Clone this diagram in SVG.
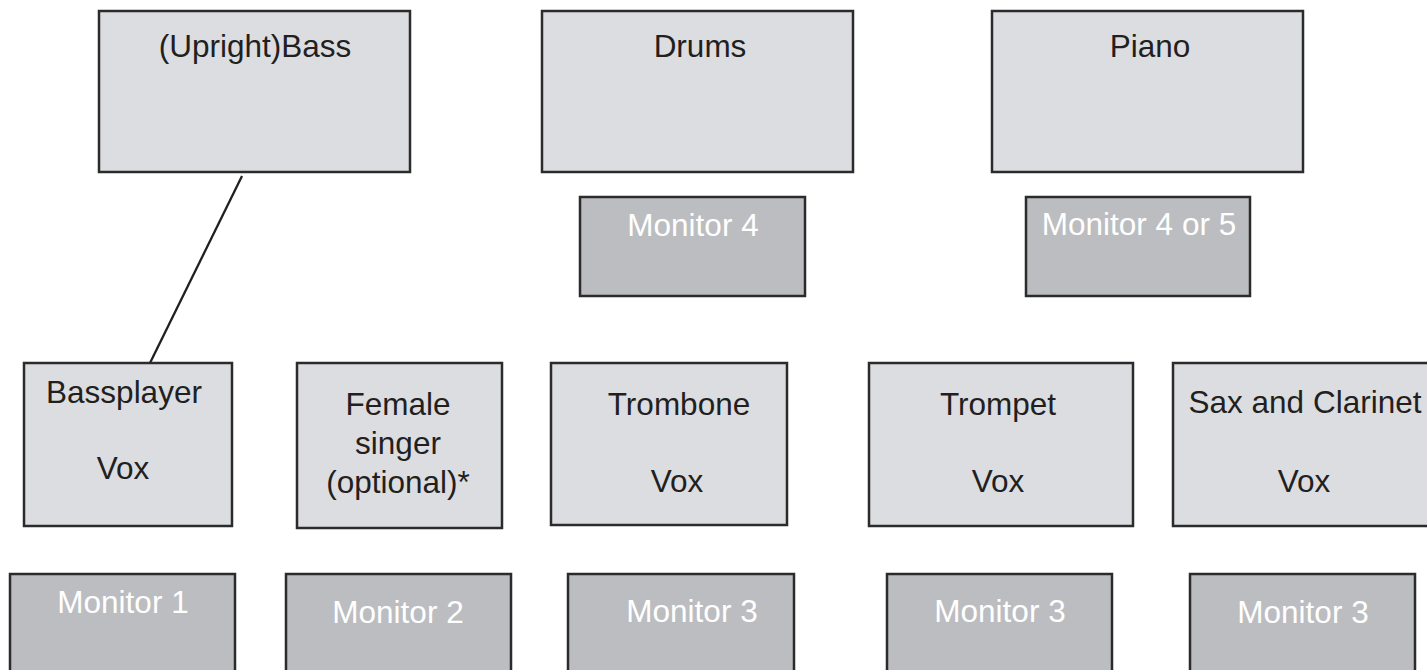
<svg xmlns="http://www.w3.org/2000/svg" width="1427" height="670" viewBox="0 0 1427 670">
<style>
.box{fill:#dcdde0;stroke:#2b2b2b;stroke-width:2.5}
.mon{fill:#bcbdc0;stroke:#2b2b2b;stroke-width:2.5}
text{font-family:"Liberation Sans",Arial,sans-serif;font-size:31.5px;text-anchor:middle}
.t{fill:#231f20}
.w{fill:#ffffff}
.conn{stroke:#231f20;stroke-width:2.3;fill:none}
</style>
<rect width="1427" height="670" fill="#ffffff"/>
<g id="connectors">
<line class="conn" x1="242" y1="176" x2="150" y2="363"/>
</g>
<g id="bass"><rect class="box" x="99" y="11" width="311" height="161"/><text class="t" x="255" y="57">(Upright)Bass</text></g>
<g id="drums"><rect class="box" x="542" y="11" width="311" height="161"/><text class="t" x="700" y="57">Drums</text></g>
<g id="piano"><rect class="box" x="992" y="11" width="311" height="161"/><text class="t" x="1150" y="57">Piano</text></g>
<g id="monitor4"><rect class="mon" x="580" y="197" width="225" height="99"/><text class="w" x="693" y="236">Monitor 4</text></g>
<g id="monitor45"><rect class="mon" x="1026" y="197" width="224" height="99"/><text class="w" x="1139" y="235">Monitor 4 or 5</text></g>
<g id="bassplayer"><rect class="box" x="24" y="363" width="208" height="163"/><text class="t" x="124" y="403">Bassplayer</text><text class="t" x="123" y="479">Vox</text></g>
<g id="female"><rect class="box" x="297" y="363" width="205" height="165"/><text class="t" x="398" y="415">Female</text><text class="t" x="398" y="454">singer</text><text class="t" x="398" y="493">(optional)*</text></g>
<g id="trombone"><rect class="box" x="551" y="363" width="236" height="162"/><text class="t" x="679" y="415">Trombone</text><text class="t" x="677" y="492">Vox</text></g>
<g id="trompet"><rect class="box" x="869" y="363" width="264" height="163"/><text class="t" x="998" y="415">Trompet</text><text class="t" x="998" y="492">Vox</text></g>
<g id="sax"><rect class="box" x="1173" y="363" width="266" height="163"/><text class="t" x="1305" y="413">Sax and Clarinet</text><text class="t" x="1304" y="492">Vox</text></g>
<g id="monitor1"><rect class="mon" x="10" y="574" width="225" height="110"/><text class="w" x="123" y="613">Monitor 1</text></g>
<g id="monitor2"><rect class="mon" x="286" y="574" width="225" height="110"/><text class="w" x="398" y="623">Monitor 2</text></g>
<g id="monitor3a"><rect class="mon" x="568" y="574" width="226" height="110"/><text class="w" x="692" y="622">Monitor 3</text></g>
<g id="monitor3b"><rect class="mon" x="887" y="574" width="225" height="110"/><text class="w" x="1000" y="622">Monitor 3</text></g>
<g id="monitor3c"><rect class="mon" x="1190" y="574" width="225" height="110"/><text class="w" x="1303" y="623">Monitor 3</text></g>
</svg>
